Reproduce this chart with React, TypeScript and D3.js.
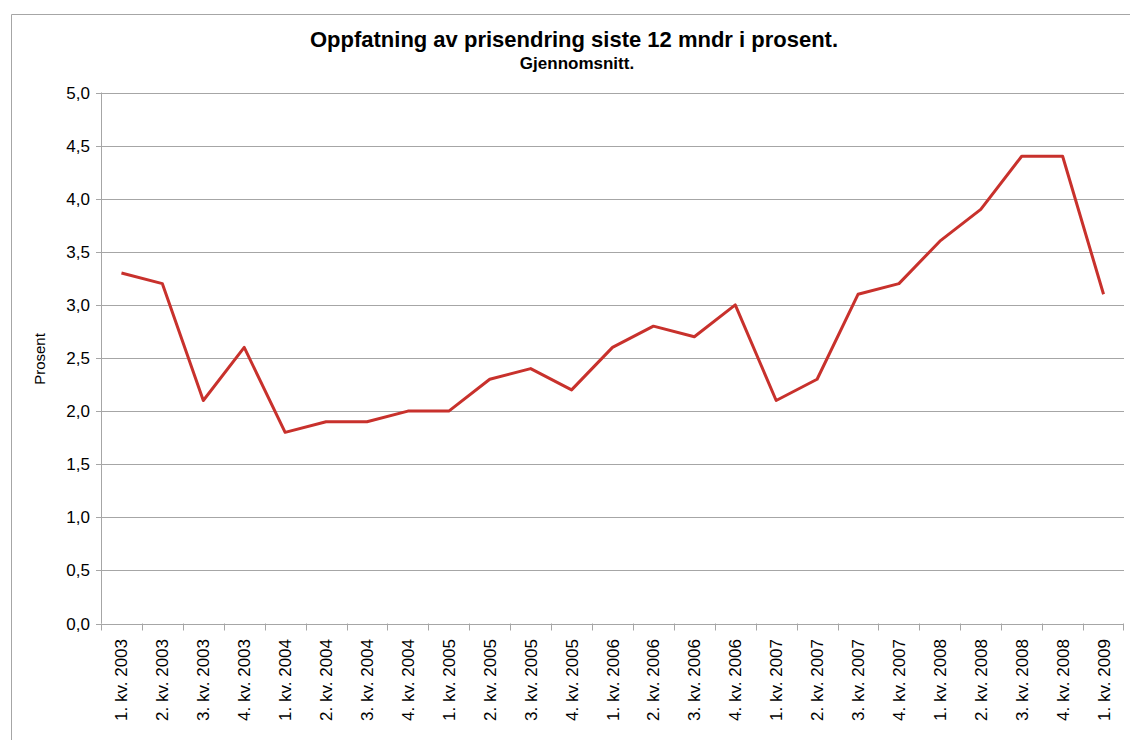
import React from "react";
import * as d3 from "d3";

const categories = [
  "1. kv. 2003", "2. kv. 2003", "3. kv. 2003", "4. kv. 2003",
  "1. kv. 2004", "2. kv. 2004", "3. kv. 2004", "4. kv. 2004",
  "1. kv. 2005", "2. kv. 2005", "3. kv. 2005", "4. kv. 2005",
  "1. kv. 2006", "2. kv. 2006", "3. kv. 2006", "4. kv. 2006",
  "1. kv. 2007", "2. kv. 2007", "3. kv. 2007", "4. kv. 2007",
  "1. kv. 2008", "2. kv. 2008", "3. kv. 2008", "4. kv. 2008",
  "1. kv. 2009",
];
const values = [
  3.3, 3.2, 2.1, 2.6,
  1.8, 1.9, 1.9, 2.0,
  2.0, 2.3, 2.4, 2.2,
  2.6, 2.8, 2.7, 3.0,
  2.1, 2.3, 3.1, 3.2,
  3.6, 3.9, 4.4, 4.4,
  3.1,
];
const yTicks = [0, 0.5, 1, 1.5, 2, 2.5, 3, 3.5, 4, 4.5, 5];
const title = "Oppfatning av prisendring siste 12 mndr i prosent.";
const subtitle = "Gjennomsnitt.";
const yLabel = "Prosent";

export default function App() {
  const W = 1130, H = 740;
  const left = 101, right = 1124, top = 92.5, bottom = 623.5;
  const x = d3.scaleBand<string>().domain(categories).range([left, right]);
  const y = d3.scaleLinear().domain([0, 5]).range([bottom, top]);
  const line = d3
    .line<number>()
    .x((_, i) => (x(categories[i]) as number) + x.bandwidth() / 2)
    .y((d) => y(d));
  const fmt = (v: number) => v.toFixed(1).replace(".", ",");
  const font = "'Liberation Sans', Arial, sans-serif";
  const gridColor = "#a6a6a6";

  return (
    <svg
      width={W}
      height={H}
      style={{ position: "absolute", left: 0, top: 0, background: "#fff" }}
      fontFamily={font}
    >
      <rect x={0} y={0} width={W} height={H} fill="#fff" />
      {/* outer frame */}
      <path d={`M11.5,${H} V14.5 H${W}`} fill="none" stroke="#a6a6a6" strokeWidth={1} />

      <text x={574} y={47} textAnchor="middle" fontSize={22} fontWeight="bold" fill="#000">
        {title}
      </text>
      <text x={577} y={69} textAnchor="middle" fontSize={17} fontWeight="bold" fill="#000">
        {subtitle}
      </text>

      {/* grid lines and y ticks */}
      {yTicks.map((t) => (
        <g key={t}>
          <line x1={96} x2={right} y1={Math.round(y(t)) + 0.5} y2={Math.round(y(t)) + 0.5} stroke={gridColor} strokeWidth={1} />
          <text x={90} y={y(t) + 6} textAnchor="end" fontSize={17} fill="#000">
            {fmt(t)}
          </text>
        </g>
      ))}
      {/* y axis line */}
      <line x1={left + 0.5} x2={left + 0.5} y1={top} y2={bottom} stroke={gridColor} strokeWidth={1} />

      {/* x ticks */}
      {categories.map((c, i) => {
        const xt = Math.round((x(c) as number)) + 0.5;
        return <line key={"t" + i} x1={xt} x2={xt} y1={bottom} y2={bottom + 7} stroke={gridColor} strokeWidth={1} />;
      })}
      <line x1={right - 0.5} x2={right - 0.5} y1={bottom} y2={bottom + 7} stroke={gridColor} strokeWidth={1} />

      {/* x labels */}
      {categories.map((c, i) => {
        const cx = (x(c) as number) + x.bandwidth() / 2 + 6;
        return (
          <text
            key={"l" + i}
            transform={`translate(${cx},${639}) rotate(-90)`}
            textAnchor="end"
            fontSize={17}
            fill="#000"
          >
            {c}
          </text>
        );
      })}

      <text
        transform={`translate(45,359) rotate(-90)`}
        textAnchor="middle"
        fontSize={15}
        fill="#000"
      >
        {yLabel}
      </text>

      <path d={line(values) || ""} fill="none" stroke="#c8312c" strokeWidth={3} strokeLinejoin="round" />
    </svg>
  );
}
